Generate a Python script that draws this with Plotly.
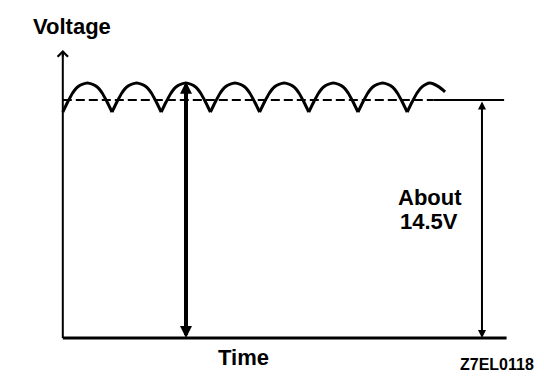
import plotly.graph_objects as go

# ---- data (time in ripple half-periods, voltage in volts) ----
arc_t = [0, 0.1, 0.2, 0.3, 0.5, 0.7, 0.8, 0.9, 1]
ripple_time = [0, 0.1, 0.2, 0.3, 0.5, 0.7, 0.8, 0.9, 1, None,
               1, 1.1, 1.2, 1.3, 1.5, 1.7, 1.8, 1.9, 2, None,
               2, 2.1, 2.2, 2.3, 2.5, 2.7, 2.8, 2.9, 3, None,
               3, 3.1, 3.2, 3.3, 3.5, 3.7, 3.8, 3.9, 4, None,
               4, 4.1, 4.2, 4.3, 4.5, 4.7, 4.8, 4.9, 5, None,
               5, 5.1, 5.2, 5.3, 5.5, 5.7, 5.8, 5.9, 6, None,
               6, 6.1, 6.2, 6.3, 6.5, 6.7, 6.8, 6.9, 7, None,
               7, 7.1, 7.2, 7.3, 7.46, 7.62, 7.77]
ripple_volt = [13.77, 14.38, 14.93, 15.30, 15.54, 15.30, 14.93, 14.38, 13.77, None,
               13.77, 14.38, 14.93, 15.30, 15.54, 15.30, 14.93, 14.38, 13.77, None,
               13.77, 14.38, 14.93, 15.30, 15.54, 15.30, 14.93, 14.38, 13.77, None,
               13.77, 14.38, 14.93, 15.30, 15.54, 15.30, 14.93, 14.38, 13.77, None,
               13.77, 14.38, 14.93, 15.30, 15.54, 15.30, 14.93, 14.38, 13.77, None,
               13.77, 14.38, 14.93, 15.30, 15.54, 15.30, 14.93, 14.38, 13.77, None,
               13.77, 14.38, 14.93, 15.30, 15.54, 15.30, 14.93, 14.38, 13.77, None,
               13.77, 14.38, 14.93, 15.30, 15.54, 15.35, 15.0]
avg_dashed_time = [0, 7.53]
avg_solid_time = [7.53, 8.97]
avg_volt = 14.5
time_axis_end = 9.02
volt_axis_top = 17.55
peak_arrow_time = 2.504
peak_volt = 15.7
level_arrow_time = 8.52

labels = {
    "y_title": "Voltage",
    "x_title": "Time",
    "level_1": "About",
    "level_2": "14.5V",
    "code": "Z7EL0118",
}

fig = go.Figure()

# ripple
fig.add_trace(go.Scatter(x=ripple_time, y=ripple_volt, mode="lines",
                         line=dict(color="black", width=3, shape="spline", smoothing=0.8),
                         connectgaps=False, hoverinfo="skip"))
# average dashed and solid
fig.add_trace(go.Scatter(x=avg_dashed_time, y=[avg_volt, avg_volt], mode="lines",
                         line=dict(color="black", width=2, dash="9px,4px"), hoverinfo="skip"))
fig.add_trace(go.Scatter(x=avg_solid_time, y=[avg_volt, avg_volt], mode="lines",
                         line=dict(color="black", width=2), hoverinfo="skip"))
# axes
fig.add_trace(go.Scatter(x=[0, time_axis_end], y=[0, 0], mode="lines",
                         line=dict(color="black", width=3), hoverinfo="skip"))
fig.add_trace(go.Scatter(x=[0, 0], y=[0, volt_axis_top - 0.2], mode="lines",
                         line=dict(color="black", width=2), hoverinfo="skip"))

# arrows
fig.add_annotation(x=0, y=volt_axis_top, ax=0, ay=volt_axis_top - 0.5,
                   xref="x", yref="y", axref="x", ayref="y", text="",
                   showarrow=True, arrowhead=4, arrowsize=1, arrowwidth=2,
                   arrowcolor="black", standoff=0)
fig.add_annotation(x=peak_arrow_time, y=0, ax=peak_arrow_time, ay=peak_volt,
                   xref="x", yref="y", axref="x", ayref="y", text="",
                   showarrow=True, arrowhead=2, arrowsize=0.6, arrowwidth=4,
                   arrowside="end+start", arrowcolor="black", standoff=0, startstandoff=0)
fig.add_annotation(x=level_arrow_time, y=0, ax=level_arrow_time, ay=avg_volt,
                   xref="x", yref="y", axref="x", ayref="y", text="",
                   showarrow=True, arrowhead=2, arrowsize=0.8, arrowwidth=2,
                   arrowside="end+start", arrowcolor="black", standoff=0, startstandoff=0)

font_big = dict(family="Liberation Sans, Arial, sans-serif", size=22, color="black", weight="bold")
font_small = dict(family="Liberation Sans, Arial, sans-serif", size=16, color="black", weight="bold")

def label(text, px, py, font):
    fig.add_annotation(x=px / 544, y=1 - py / 376, xref="paper", yref="paper",
                       text=text, showarrow=False, font=font,
                       xanchor="center", yanchor="middle")

label(labels["y_title"], 72, 27, font_big)
label(labels["x_title"], 243, 357, font_big)
label(labels["level_1"], 430, 198, font_big)
label(labels["level_2"], 429, 221, font_big)
label(labels["code"], 497, 364, font_small)

fig.update_layout(
    width=544, height=376,
    margin=dict(l=0, r=0, t=0, b=0),
    paper_bgcolor="white", plot_bgcolor="white",
    showlegend=False,
    xaxis=dict(range=[-62.8 / 49.2, (544 - 62.8) / 49.2], visible=False, fixedrange=True),
    yaxis=dict(range=[-38 / 16.41, 338 / 16.41], visible=False, fixedrange=True),
)

fig.write_html("out.html", config={"displayModeBar": False},
               post_script="document.body.style.margin='0';document.body.style.overflow='hidden';")
